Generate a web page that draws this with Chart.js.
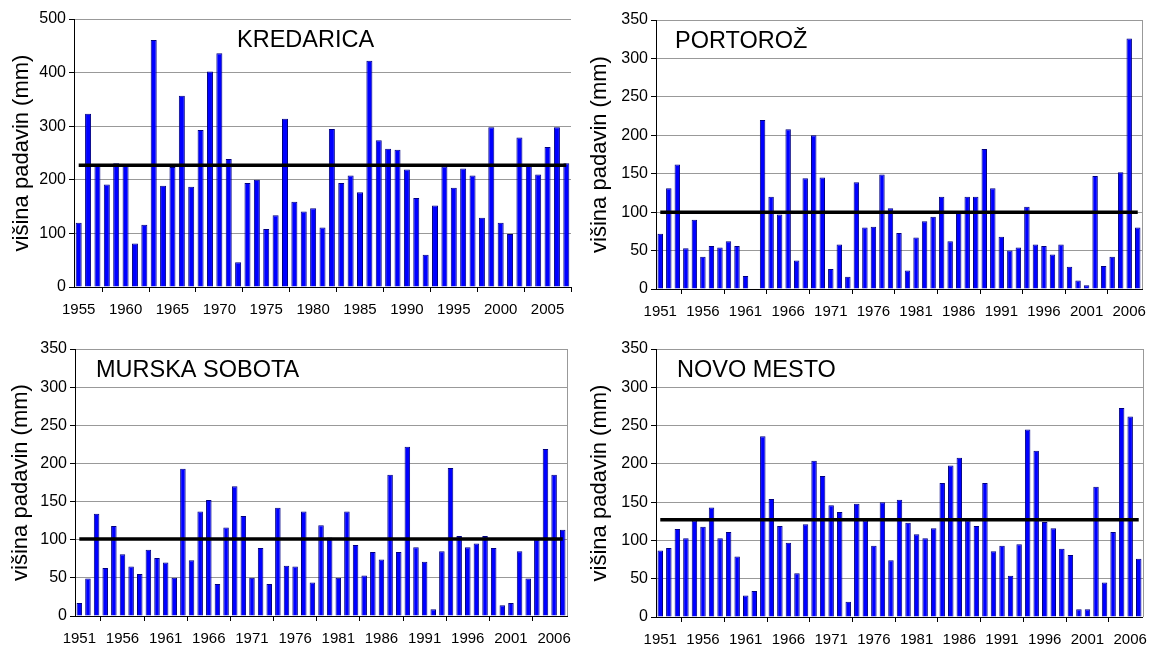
<!DOCTYPE html>
<html lang="sl">
<head>
  <meta charset="UTF-8" />
  <title>Višina padavin</title>
  <script src="https://cdn.jsdelivr.net/npm/chart.js"></script>
  <style>
    body { margin: 0; background: #fff; width: 1156px; height: 645px; overflow: hidden; position: relative; }
    .panel { position: absolute; }
    .panel canvas { display: block; }
  </style>
</head>
<body>
  <div class="panel" style="left:0;top:0;width:580px;height:330px"><canvas id="kredarica"></canvas></div>
  <div class="panel" style="left:580px;top:0;width:576px;height:330px"><canvas id="portoroz"></canvas></div>
  <div class="panel" style="left:0;top:330px;width:580px;height:315px"><canvas id="murska"></canvas></div>
  <div class="panel" style="left:580px;top:330px;width:576px;height:315px"><canvas id="novomesto"></canvas></div>

  <script>
    // leta
    const kredaricaYears = Array.from({ length: 53 }, (_, i) => String(1955 + i));
    const otherYears = Array.from({ length: 57 }, (_, i) => String(1951 + i));

    // višina padavin (mm)
    const kredaricaValues = [
      120, 323, 227, 191, 231, 227, 81, 116, 461, 189,
      224, 357, 187, 293, 402, 436, 239, 46, 194, 200,
      108, 134, 314, 159, 141, 147, 111, 295, 194, 208,
      177, 422, 274, 258, 256, 219, 166, 60, 152, 225,
      185, 221, 208, 129, 298, 120, 99, 279, 227, 210,
      261, 298, 231
    ];
    const portorozValues = [
      72, 131, 162, 53, 90, 42, 56, 54, 62, 56,
      17, null, 220, 120, 97, 208, 37, 144, 200, 145,
      26, 58, 16, 139, 80, 81, 149, 105, 73, 24,
      67, 88, 94, 120, 62, 99, 120, 120, 182, 131,
      68, 50, 54, 107, 58, 56, 45, 58, 29, 11,
      5, 147, 30, 42, 152, 326, 80
    ];
    const murskaValues = [
      17, 49, 134, 63, 118, 81, 65, 55, 87, 76,
      70, 50, 193, 73, 137, 152, 42, 116, 170, 131,
      50, 89, 42, 142, 66, 65, 137, 44, 119, 103,
      50, 137, 93, 53, 84, 74, 185, 84, 222, 90,
      71, 9, 85, 194, 105, 90, 95, 105, 89, 14,
      17, 85, 49, 100, 219, 185, 113
    ];
    const novoMestoValues = [
      87, 90, 115, 103, 126, 118, 143, 103, 111, 79,
      28, 34, 236, 154, 119, 97, 57, 121, 204, 184,
      146, 137, 20, 148, 126, 93, 150, 74, 153, 123,
      108, 103, 116, 175, 198, 208, 126, 119, 175, 86,
      93, 54, 95, 245, 217, 124, 116, 89, 81, 10,
      10, 170, 45, 111, 273, 262, 76
    ];

    // povprečja
    const kredaricaMean = 227;
    const portorozMean = 100;
    const murskaMean = 101;
    const novoMestoMean = 127;

    Chart.defaults.font.family = '"Liberation Sans", Arial, sans-serif';
    Chart.defaults.color = '#000';
    Chart.defaults.animation = false;

    // ime postaje + desni rob
    const stationLabel = {
      id: 'stationLabel',
      afterDraw(chart, args, opts) {
        const { ctx, chartArea } = chart;
        ctx.save();
        if (opts.rightBorder) {
          ctx.strokeStyle = '#999';
          ctx.lineWidth = 1;
          ctx.beginPath();
          ctx.moveTo(Math.round(chartArea.right) + 0.5, chartArea.top);
          ctx.lineTo(Math.round(chartArea.right) + 0.5, chartArea.bottom);
          ctx.stroke();
        }
        ctx.font = '23.5px "Liberation Sans", Arial, sans-serif';
        ctx.fillStyle = '#000';
        ctx.textBaseline = 'alphabetic';
        ctx.fillText(opts.text, chartArea.left + opts.dx, chartArea.top + 28);
        ctx.restore();
      }
    };

    function makeChart(id, years, values, mean, cfg) {
      new Chart(document.getElementById(id), {
        type: 'bar',
        plugins: [stationLabel],
        data: {
          labels: years,
          datasets: [
            {
              type: 'line',
              data: years.map(() => mean),
              borderColor: '#000',
              borderWidth: 3.5,
              pointRadius: 0,
              order: 0
            },
            {
              data: values,
              backgroundColor: '#0000ff',
              borderColor: '#000080',
              borderWidth: 1,
              barPercentage: 0.64,
              categoryPercentage: 1,
              order: 1
            }
          ]
        },
        options: {
          responsive: true,
          maintainAspectRatio: false,
          layout: { autoPadding: false, padding: { top: cfg.top, right: cfg.right, left: 0, bottom: 0 } },
          scales: {
            x: {
              offset: true,
              afterFit: s => { s.height = cfg.xHeight; },
              grid: { drawOnChartArea: false, drawTicks: true, tickLength: 5, color: '#000', offset: true },
              border: { color: '#000', width: 1 },
              ticks: {
                autoSkip: false,
                maxRotation: 0,
                padding: 9,
                font: { size: 15 },
                callback: (v, i) => (i % 5 === 0 ? years[i] : null)
              }
            },
            y: {
              min: 0,
              max: cfg.max,
              afterFit: s => { s.width = cfg.yWidth; },
              grid: { color: '#999', tickColor: '#000', tickLength: 5 },
              border: { color: '#000', width: 1 },
              ticks: { stepSize: cfg.step, padding: 3, font: { size: 16 } },
              title: {
                display: true,
                text: 'višina padavin (mm)',
                font: { size: 22 },
                padding: { top: cfg.titlePad, bottom: 0 }
              }
            }
          },
          plugins: {
            legend: { display: false },
            tooltip: { enabled: false },
            stationLabel: { text: cfg.name, dx: cfg.dx, rightBorder: cfg.rightBorder }
          }
        }
      });
    }

    makeChart('kredarica', kredaricaYears, kredaricaValues, kredaricaMean,
      { name: 'KREDARICA', dx: 163, top: 19, right: 9, xHeight: 43, yWidth: 74, max: 500, step: 100, titlePad: 9, rightBorder: false });
    makeChart('portoroz', otherYears, portorozValues, portorozMean,
      { name: 'PORTOROŽ', dx: 19, top: 20, right: 14, xHeight: 41, yWidth: 76, max: 350, step: 50, titlePad: 7, rightBorder: true });
    makeChart('murska', otherYears, murskaValues, murskaMean,
      { name: 'MURSKA SOBOTA', dx: 21, top: 19, right: 8, xHeight: 29, yWidth: 75, max: 350, step: 50, titlePad: 8, rightBorder: true });
    makeChart('novomesto', otherYears, novoMestoValues, novoMestoMean,
      { name: 'NOVO MESTO', dx: 21, top: 19, right: 5, xHeight: 28, yWidth: 76, max: 350, step: 50, titlePad: 7, rightBorder: true });
  </script>
</body>
</html>
